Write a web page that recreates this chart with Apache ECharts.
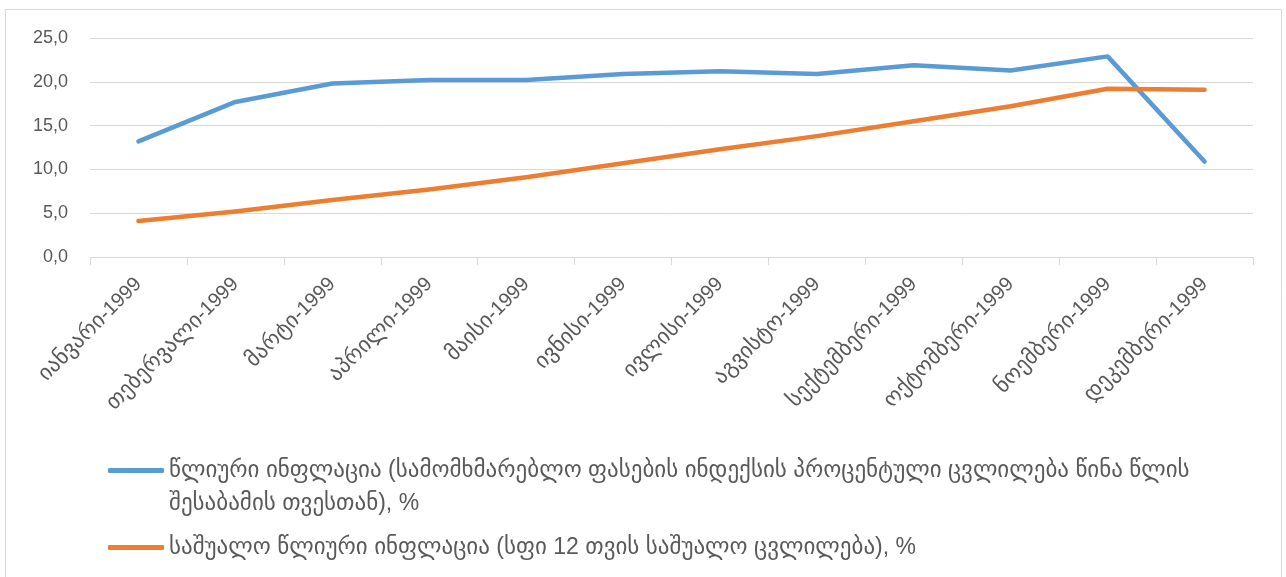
<!DOCTYPE html>
<html>
<head>
<meta charset="utf-8">
<script src="https://cdn.jsdelivr.net/npm/echarts@6/dist/echarts.min.js"></script>
<style>
  html, body { margin: 0; padding: 0; background: #ffffff; }
  #chart { width: 1286px; height: 577px; }
</style>
</head>
<body>
<div id="chart"></div>
<script>
// Months of 1999 (Georgian month name + year)
const monthNames = [
  'იანვარი', 'თებერვალი', 'მარტი', 'აპრილი', 'მაისი', 'ივნისი',
  'ივლისი', 'აგვისტო', 'სექტემბერი', 'ოქტომბერი', 'ნოემბერი', 'დეკემბერი'
];
const year = '1999';
const months = monthNames.map(m => m + '-' + year);

// Annual inflation (CPI change vs. same month of previous year), %
const annualInflation = [13.2, 17.7, 19.8, 20.2, 20.2, 20.9, 21.2, 20.9, 21.9, 21.3, 22.9, 10.9];

// Average annual inflation (12-month average CPI change), %
const averageInflation = [4.1, 5.2, 6.5, 7.7, 9.1, 10.7, 12.3, 13.8, 15.5, 17.2, 19.2, 19.1];

const seriesNames = [
  'წლიური ინფლაცია (სამომხმარებლო ფასების ინდექსის პროცენტული ცვლილება წინა წლის შესაბამის თვესთან), %',
  'საშუალო წლიური ინფლაცია (სფი 12 თვის საშუალო ცვლილება), %'
];
// where the long legend entry wraps onto a second line
const wrapBefore = 'შესაბამის';

const yTicks = { min: 0, max: 25, interval: 5 };

const fontFamily = '"Liberation Sans", "DejaVu Sans", sans-serif';
const textColor = '#595959';
const gridColor = '#D9D9D9';
const colors = ['#5B9BD5', '#ED7D31'];

const chart = echarts.init(document.getElementById('chart'), null, { renderer: 'canvas' });

const legendText = {
  color: textColor,
  fontFamily: fontFamily,
  fontSize: 23,
  lineHeight: 33
};

chart.setOption({
  animation: false,
  backgroundColor: '#ffffff',
  graphic: [{
    type: 'rect',
    shape: { x: 5.5, y: 9.5, width: 1276, height: 580 },
    style: { fill: 'none', stroke: gridColor, lineWidth: 1 },
    silent: true
  }],
  grid: { left: 90, right: 33, top: 38, bottom: 320, containLabel: false },
  legend: [
    {
      left: 103,
      top: 416,
      itemWidth: 56,
      itemHeight: 5,
      icon: 'roundRect',
      data: [seriesNames[0]],
      // blank first line keeps the icon level with the first text line
      formatter: name => {
        const i = name.indexOf(wrapBefore);
        return '\n' + name.slice(0, i).trim() + '\n' + name.slice(i);
      },
      textStyle: legendText
    },
    {
      left: 103,
      top: 526,
      itemWidth: 56,
      itemHeight: 5,
      icon: 'roundRect',
      data: [seriesNames[1]],
      textStyle: legendText
    }
  ],
  xAxis: {
    type: 'category',
    data: months,
    boundaryGap: true,
    axisLine: { lineStyle: { color: gridColor, width: 1 } },
    axisTick: { show: true, length: 8, lineStyle: { color: gridColor } },
    axisLabel: {
      rotate: 45,
      margin: 24,
      interval: 0,
      formatter: v => {
        const k = v.lastIndexOf('-');
        return '{g|' + v.slice(0, k) + '}{n|' + v.slice(k) + '}';
      },
      rich: {
        g: { color: textColor, fontFamily: fontFamily, fontSize: 22 },
        n: { color: textColor, fontFamily: fontFamily, fontSize: 20 }
      }
    },
    splitLine: { show: false }
  },
  yAxis: {
    type: 'value',
    min: yTicks.min,
    max: yTicks.max,
    interval: yTicks.interval,
    axisLine: { show: false },
    axisTick: { show: false },
    axisLabel: {
      margin: 22,
      color: textColor,
      fontFamily: fontFamily,
      fontSize: 18,
      formatter: v => v.toFixed(1).replace('.', ',')
    },
    splitLine: { lineStyle: { color: gridColor, width: 1 } }
  },
  series: [
    {
      name: seriesNames[0],
      type: 'line',
      data: annualInflation,
      symbol: 'none',
      color: colors[0],
      lineStyle: { width: 4.5, color: colors[0], cap: 'round', join: 'round' }
    },
    {
      name: seriesNames[1],
      type: 'line',
      data: averageInflation,
      symbol: 'none',
      color: colors[1],
      lineStyle: { width: 4.5, color: colors[1], cap: 'round', join: 'round' }
    }
  ]
});
</script>
</body>
</html>
